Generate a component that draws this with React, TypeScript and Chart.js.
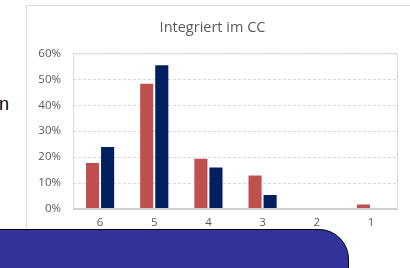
import React, { useEffect, useRef } from "react";
import { Chart, registerables } from "chart.js";

Chart.register(...registerables);

const categories = ["6", "5", "4", "3", "2", "1"];
const seriesRed = [17.7, 48.3, 19.4, 12.9, 0, 1.7];
const seriesNavy = [23.9, 55.4, 16.0, 5.4, 0, 0];
const titleText = "Integriert im CC";
const FONT = "Open Sans";

const boxPlugin = {
  id: "boxPlugin",
  afterDraw(chart: any) {
    const { ctx, chartArea } = chart;
    ctx.save();
    ctx.strokeStyle = "#d9d9d9";
    ctx.lineWidth = 1;
    ctx.strokeRect(chartArea.left + 0.5, chartArea.top + 0.5, chartArea.right - chartArea.left - 1, chartArea.bottom - chartArea.top);
    ctx.strokeStyle = "#d0d0d0";
    ctx.lineWidth = 2;
    ctx.beginPath();
    ctx.moveTo(chartArea.left, chartArea.bottom);
    ctx.lineTo(chartArea.right, chartArea.bottom);
    ctx.stroke();
    ctx.restore();
  },
};

export default function App() {
  const ref = useRef<HTMLCanvasElement>(null);
  useEffect(() => {
    if (!ref.current) return;
    const chart = new Chart(ref.current, {
      type: "bar",
      data: {
        labels: categories,
        datasets: [
          { data: seriesRed, backgroundColor: "#C0504D", categoryPercentage: 0.556, barPercentage: 0.87 },
          { data: seriesNavy, backgroundColor: "#002060", categoryPercentage: 0.556, barPercentage: 0.87 },
        ],
      },
      options: {
        animation: false,
        responsive: false,
        maintainAspectRatio: false,
        layout: { padding: { left: 0, right: 12, top: 0, bottom: 0 } },
        plugins: {
          legend: { display: false },
          tooltip: { enabled: false },
          title: {
            display: true,
            text: titleText,
            color: "#595959",
            font: { family: FONT, size: 14.5, weight: "normal", lineHeight: 1.2 },
            padding: { top: 13, bottom: 17 },
          },
        },
        scales: {
          x: {
            grid: { display: false, drawTicks: false },
            border: { display: false },
            ticks: { color: "#595959", font: { family: FONT, size: 11.5, lineHeight: 1.2 }, padding: 7 },
            afterFit: (s: any) => { s.height = 59; },
          },
          y: {
            min: 0,
            max: 60,
            ticks: {
              stepSize: 10,
              color: "#595959",
              font: { family: FONT, size: 11.5 },
              padding: 12,
              callback: (v: any) => v + "%",
            },
            grid: { color: "#d9d9d9", drawTicks: false, lineWidth: 1 },
            border: { display: false, dash: [3, 2] },
            afterFit: (s: any) => { s.width = 46; },
          },
        },
      },
      plugins: [boxPlugin],
    });
    return () => chart.destroy();
  }, []);

  return (
    <div style={{ position: "fixed", left: 0, top: 0, width: 410, height: 268, overflow: "hidden", background: "#fff" }}>
      <div style={{ position: "absolute", left: -1, top: 94, fontFamily: "Liberation Sans", fontSize: 18, color: "#000" }}>n</div>
      <div style={{ position: "absolute", left: 26, top: 5, width: 400, height: 300, border: "1px solid #d9d9d9", background: "#fff" }}>
        <canvas ref={ref} width={383} height={262} style={{ display: "block", width: 383, height: 262 }} />
      </div>
      <div
        style={{
          position: "absolute",
          left: -1,
          top: 229,
          width: 348,
          height: 60,
          background: "#343399",
          border: "1px solid #000",
          borderTopRightRadius: 30,
        }}
      />
    </div>
  );
}
